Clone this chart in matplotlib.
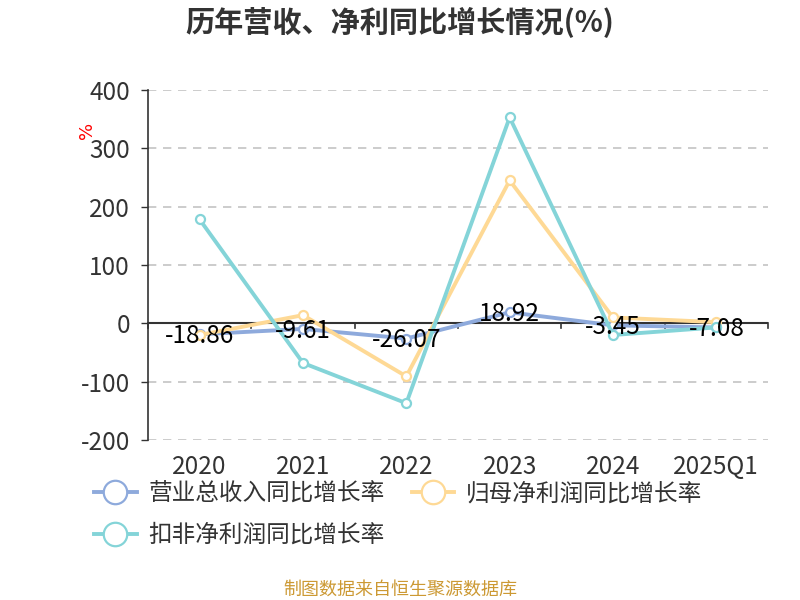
import matplotlib
matplotlib.use("Agg")
import matplotlib.pyplot as plt
import numpy as np

plt.rcParams['font.family'] = ['Noto Sans CJK SC', 'DejaVu Sans']

# data
years = ["2020", "2021", "2022", "2023", "2024", "2025Q1"]
revenue = [-18.86, -9.61, -26.07, 18.92, -3.45, -7.08]
net_profit = [-20, 14, -91, 245, 10, 2]
deducted = [178, -68, -137, 353, -20, -7]

names = ["营业总收入同比增长率", "归母净利润同比增长率", "扣非净利润同比增长率"]
colors = ["#8eaadc", "#fed995", "#84d4d8"]

fig = plt.figure(figsize=(8, 6), dpi=100)
ax = fig.add_axes([0.185, 0.2667, 0.775, 0.5833])

x = np.arange(len(years))
series = [revenue, net_profit, deducted]
lines = []
for vals, c, n in zip(series, colors, names):
    ln, = ax.plot(x, vals, color=c, lw=2.8, marker="o", ms=6.5,
                  markerfacecolor="white", markeredgecolor=c, mew=1.6,
                  label=n, zorder=3)
    lines.append(ln)

# labels on the revenue series
for xi, v in zip(x, revenue):
    ax.text(xi, v - 3, f"{v:.2f}", ha="center", va="center", fontsize=17.5,
            color="black", zorder=5)

ax.set_xlim(-0.5, len(years) - 0.5)
ax.set_ylim(-200, 400)
ax.set_yticks(range(-200, 401, 100))
ax.set_yticklabels([str(v) for v in range(-200, 401, 100)])
ax.tick_params(axis="y", labelsize=17.5, colors="#333333", length=5, width=1,
               pad=8)
ax.tick_params(axis="x", length=0, labelsize=17.5, colors="#333333", pad=10)
ax.set_xticks(x)
ax.set_xticklabels(years)

for y in range(-200, 401, 100):
    ax.axhline(y, color="#c4c4c4", lw=1.2, ls=(0, (5, 4)), zorder=1)

for s in ["top", "right", "bottom"]:
    ax.spines[s].set_visible(False)
ax.spines["left"].set_color("#333333")
ax.spines["left"].set_linewidth(1.2)

# x axis line at zero with ticks on category boundaries
ax.axhline(0, color="#333333", lw=1.5, zorder=2)
for b in np.arange(-0.5, len(years), 1.0):
    ax.plot([b, b], [0, -8], color="#333333", lw=1.2, zorder=2, clip_on=False)

ax.text(-1.09, 331, "%", color="red", fontsize=13, rotation=90,
        ha="center", va="center", family="DejaVu Sans")

fig.text(0.5, 0.962, "历年营收、净利同比增长情况(%)", ha="center", va="center",
         fontsize=21, fontweight="bold", color="#333333")

leg = fig.legend([lines[0], lines[2], lines[1]], [names[0], names[2], names[1]],
                 ncol=2, loc="upper left", bbox_to_anchor=(0.106, 0.212),
                 frameon=False, fontsize=17, handlelength=1.8,
                 columnspacing=1.15, labelspacing=0.8, handletextpad=0.5,
                 markerscale=2.6, borderaxespad=0)
for t in leg.get_texts():
    t.set_color("#333333")

fig.text(0.5, 0.017, "制图数据来自恒生聚源数据库", ha="center", va="center",
         fontsize=13, color="#cc9933")

fig.savefig("out.png", dpi=100)
